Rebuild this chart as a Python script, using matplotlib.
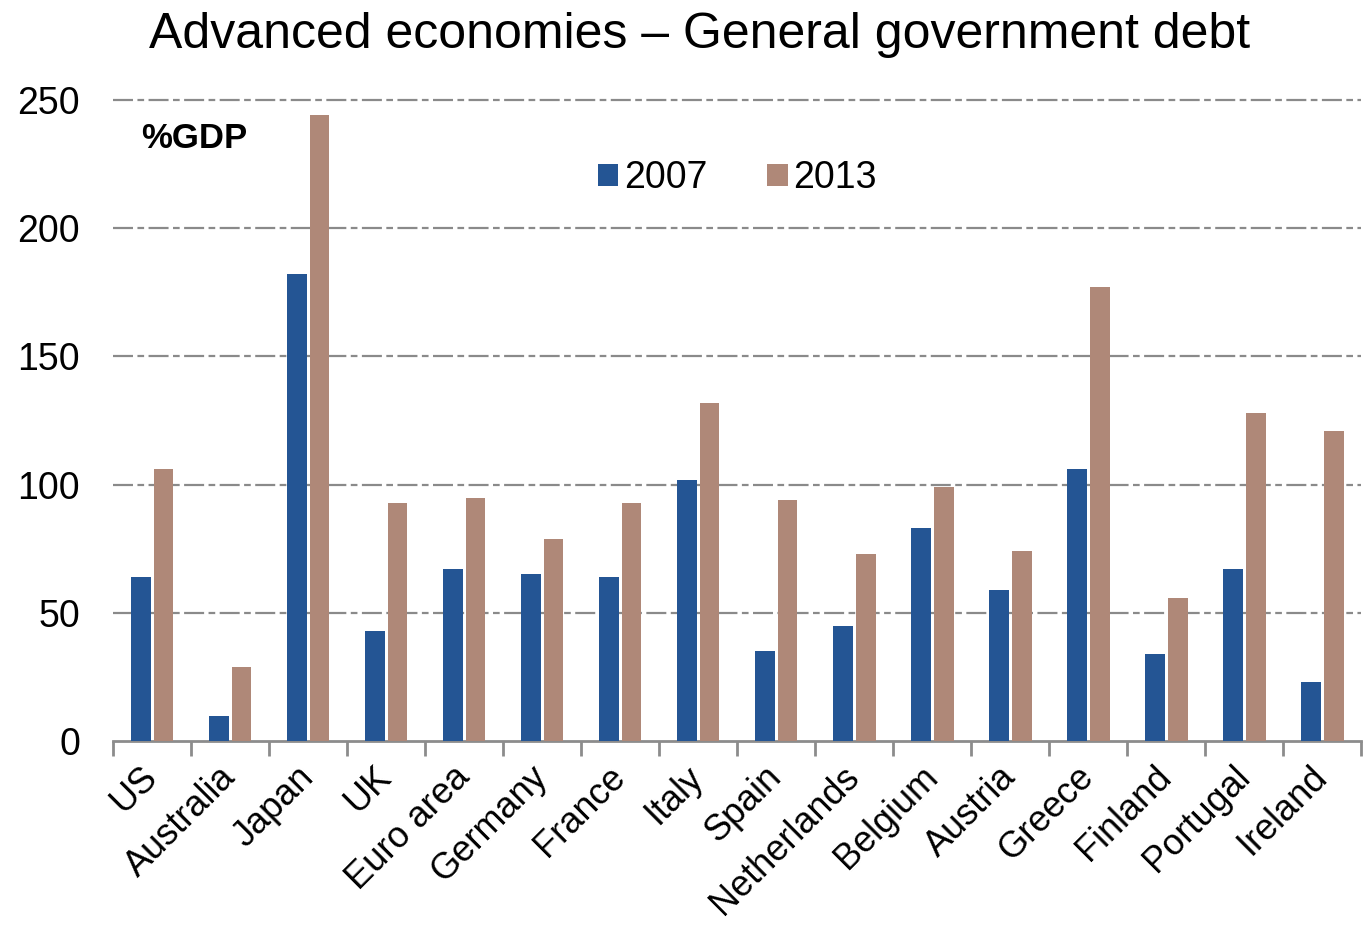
import numpy as np
import matplotlib.pyplot as plt
from matplotlib.patches import Patch

plt.rcParams['font.family'] = ['Liberation Sans', 'DejaVu Sans']

countries = ['US', 'Australia', 'Japan', 'UK', 'Euro area', 'Germany', 'France',
             'Italy', 'Spain', 'Netherlands', 'Belgium', 'Austria', 'Greece',
             'Finland', 'Portugal', 'Ireland']
debt_2007 = [64, 10, 182, 43, 67, 65, 64, 102, 35, 45, 83, 59, 106, 34, 67, 23]
debt_2013 = [106, 29, 244, 93, 95, 79, 93, 132, 94, 73, 99, 74, 177, 56, 128, 121]
yticks = [0, 50, 100, 150, 200, 250]

blue = '#245594'
tan = '#af8878'
grey = '#8c8c8c'

fig = plt.figure(figsize=(13.64, 9.30), dpi=100)
ax = fig.add_axes([0.083, 0.203, 0.915, 0.6895])

x = np.arange(len(countries))
w = 0.255
ax.bar(x - 0.145, debt_2007, w, color=blue, zorder=3)
ax.bar(x + 0.145, debt_2013, w, color=tan, zorder=3)

ax.set_xlim(-0.5, len(countries) - 0.5)
ax.set_ylim(0, 250)
ax.set_yticks(yticks)
ax.set_yticklabels([str(v) for v in yticks], fontsize=27)
ax.tick_params(axis='y', length=0, pad=24)

ax.set_xticks(x)
ax.set_xticklabels(countries, rotation=45, ha='right', va='center',
                   rotation_mode='anchor', fontsize=26)
ax.tick_params(axis='x', length=0, pad=22)
ax.set_xticks(np.arange(len(countries) + 1) - 0.5, minor=True)
ax.tick_params(axis='x', which='minor', length=11, width=2, color=grey)

for v in yticks[1:]:
    ax.axhline(v, color='#8a8a8a', lw=1.6, dashes=(9, 2, 3, 2), zorder=1, clip_on=False)

for s in ['left', 'right', 'top']:
    ax.spines[s].set_visible(False)
ax.spines['bottom'].set_color(grey)
ax.spines['bottom'].set_linewidth(2)

ax.text(0.022, 0.94, '%GDP', transform=ax.transAxes, fontsize=25, fontweight='bold',
        va='center', ha='left')

handles = [Patch(facecolor=blue, label='2007'), Patch(facecolor=tan, label='2013')]
ax.legend(handles=handles, loc='center', bbox_to_anchor=(0.5, 0.878), ncol=2,
          frameon=False, fontsize=27, handlelength=0.55, handleheight=0.55,
          handletextpad=0.15, columnspacing=1.6)

fig.text(0.513, 0.962, 'Advanced economies \u2013 General government debt',
         ha='center', va='center', fontsize=36)

fig.savefig('out.png', dpi=100)
